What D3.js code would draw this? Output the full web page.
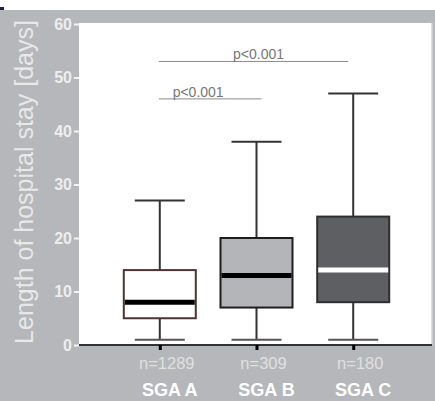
<!DOCTYPE html>
<html>
<head>
<meta charset="utf-8">
<script src="https://cdn.jsdelivr.net/npm/d3@7"></script>
<style>
  body { margin: 0; background: #fff; }
  svg { display: block; font-family: "Liberation Sans", Arial, sans-serif; }
</style>
</head>
<body>
<div id="chart"></div>
<script>
var groups = ["SGA A", "SGA B", "SGA C"];
var counts = ["n=1289", "n=309", "n=180"];
var whiskerLow = [1, 1, 1];
var q1 = [5, 7, 8];
var median = [8, 13, 14];
var q3 = [14, 20, 24];
var whiskerHigh = [27, 38, 47];
var yTicks = [0, 10, 20, 30, 40, 50, 60];
var pLabels = ["p<0.001", "p<0.001"];
var pFrom = ["SGA A", "SGA A"];
var pTo = ["SGA C", "SGA B"];
var pLevel = [53, 46];

var boxFill = ["#ffffff", "#b4b5b8", "#5e5f63"];
var boxStroke = ["#4a3434", "#1e1e1e", "#2e2e2e"];
var medianColor = ["#000000", "#000000", "#ffffff"];

var width = 435, height = 401;
var plot = {left: 79, right: 432, top: 23, bottom: 345};

var svg = d3.select("#chart").append("svg")
    .attr("width", width)
    .attr("height", height);

// backgrounds
svg.append("rect").attr("x", 0).attr("y", 10).attr("width", width).attr("height", height - 10)
    .attr("fill", "#b5b7ba");
svg.append("rect").attr("x", 0).attr("y", 7).attr("width", 4).attr("height", 3).attr("fill", "#1c1c58");
svg.append("rect").attr("x", plot.left).attr("y", plot.top)
    .attr("width", plot.right - plot.left).attr("height", plot.bottom - plot.top)
    .attr("fill", "#ffffff");
svg.append("line").attr("x1", plot.right).attr("x2", plot.right)
    .attr("y1", plot.top).attr("y2", plot.bottom)
    .attr("stroke", "#d0d2d6").attr("stroke-width", 1.5);

var y = d3.scaleLinear().domain([0, 60]).range([345, 24]);
var x = d3.scalePoint().domain(groups).range([plot.left + 1, plot.right + 1]).padding(0.825);

// y axis
var yAxis = d3.axisLeft(y).tickValues(yTicks).tickSize(5).tickPadding(2);
var yg = svg.append("g").attr("transform", "translate(" + plot.left + ",0)").call(yAxis);
yg.select(".domain").remove();
yg.selectAll(".tick line").attr("stroke", "#f4f4f4").attr("stroke-width", 2);
yg.selectAll(".tick text").attr("fill", "#eeeeee")
    .style("font-size", "16px").style("font-weight", "bold")
    .style("font-family", "'Liberation Sans', Arial, sans-serif");

svg.append("text")
    .attr("transform", "translate(33," + 182 + ") rotate(-90)")
    .attr("text-anchor", "middle")
    .attr("fill", "#e8e8e8")
    .style("font-size", "25px")
    .text("Length of hospital stay [days]");

// x axis
svg.append("line").attr("x1", plot.left).attr("x2", plot.right)
    .attr("y1", y(0)).attr("y2", y(0))
    .attr("stroke", "#333").attr("stroke-width", 2);
var xg = svg.append("g").attr("transform", "translate(0," + y(0) + ")")
    .call(d3.axisBottom(x).tickSize(5).tickFormat(""));
xg.select(".domain").remove();
xg.selectAll(".tick line").attr("stroke", "#000").attr("stroke-width", 3);

svg.selectAll(".nlab").data(groups).enter().append("text")
    .attr("class", "nlab")
    .attr("x", function(d) { return x(d) + 7; })
    .attr("y", 369)
    .attr("text-anchor", "middle")
    .attr("fill", "#e0e0e0")
    .style("font-size", "16.5px")
    .text(function(d, i) { return counts[i]; });

svg.selectAll(".glab").data(groups).enter().append("text")
    .attr("class", "glab")
    .attr("x", function(d) { return x(d) + 10; })
    .attr("y", 396)
    .attr("text-anchor", "middle")
    .attr("fill", "#ffffff")
    .style("font-size", "18px").style("font-weight", "bold")
    .text(function(d) { return d; });

// boxes
var boxW = 72, capW = 50;
var boxes = svg.selectAll(".box").data(groups).enter().append("g").attr("class", "box");

boxes.append("line")
    .attr("x1", function(d) { return x(d); }).attr("x2", function(d) { return x(d); })
    .attr("y1", function(d, i) { return y(whiskerHigh[i]); })
    .attr("y2", function(d, i) { return y(whiskerLow[i]); })
    .attr("stroke", "#333").attr("stroke-width", 2);
boxes.append("line")
    .attr("x1", function(d) { return x(d) - capW / 2; }).attr("x2", function(d) { return x(d) + capW / 2; })
    .attr("y1", function(d, i) { return y(whiskerHigh[i]); })
    .attr("y2", function(d, i) { return y(whiskerHigh[i]); })
    .attr("stroke", "#333").attr("stroke-width", 2);
boxes.append("line")
    .attr("x1", function(d) { return x(d) - capW / 2; }).attr("x2", function(d) { return x(d) + capW / 2; })
    .attr("y1", function(d, i) { return y(whiskerLow[i]); })
    .attr("y2", function(d, i) { return y(whiskerLow[i]); })
    .attr("stroke", "#555").attr("stroke-width", 2);
boxes.append("rect")
    .attr("x", function(d) { return x(d) - boxW / 2; })
    .attr("width", boxW)
    .attr("y", function(d, i) { return y(q3[i]); })
    .attr("height", function(d, i) { return y(q1[i]) - y(q3[i]); })
    .attr("fill", function(d, i) { return boxFill[i]; })
    .attr("stroke", function(d, i) { return boxStroke[i]; })
    .attr("stroke-width", 2);
boxes.append("line")
    .attr("x1", function(d) { return x(d) - boxW / 2 + 1; }).attr("x2", function(d) { return x(d) + boxW / 2 - 1; })
    .attr("y1", function(d, i) { return y(median[i]); })
    .attr("y2", function(d, i) { return y(median[i]); })
    .attr("stroke", function(d, i) { return medianColor[i]; })
    .attr("stroke-width", 5);

// significance brackets
var sig = svg.selectAll(".sig").data(pLabels).enter().append("g").attr("class", "sig");
sig.append("line")
    .attr("x1", function(d, i) { return x(pFrom[i]) - 1; })
    .attr("x2", function(d, i) { return x(pTo[i]) + (i === 0 ? -5 : 5); })
    .attr("y1", function(d, i) { return y(pLevel[i]); })
    .attr("y2", function(d, i) { return y(pLevel[i]); })
    .attr("stroke", "#8a8a8a").attr("stroke-width", 1);
sig.append("text")
    .attr("x", function(d, i) { return i === 0 ? (x(pFrom[i]) + x(pTo[i])) / 2 + 2 : (x(pFrom[i]) + x(pTo[i])) / 2 - 10; })
    .attr("y", function(d, i) { return y(pLevel[i]) - 2; })
    .attr("text-anchor", "middle")
    .attr("fill", "#777777")
    .style("font-size", "14px")
    .text(function(d) { return d; });
</script>
</body>
</html>
